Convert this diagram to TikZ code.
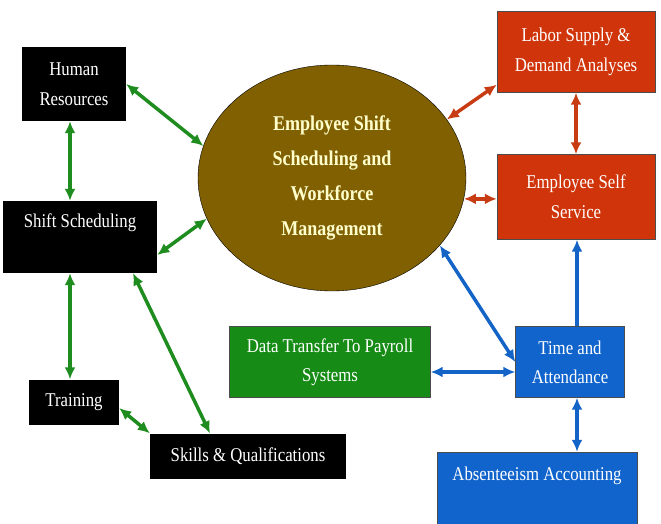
\documentclass[tikz,border=0pt]{standalone}
\usepackage{fontspec}
\setmainfont{Liberation Serif}[FakeStretch=0.86]
\usepackage{tikz}
\usetikzlibrary{shapes,arrows,arrows.meta,positioning}
\definecolor{wfbrown}{RGB}{128,96,0}
\definecolor{wftext}{RGB}{255,255,204}
\definecolor{boxred}{RGB}{208,52,10}
\definecolor{boxblue}{RGB}{16,100,204}
\definecolor{boxgreen}{RGB}{22,140,22}
\definecolor{arrgreen}{RGB}{30,140,30}
\definecolor{arrred}{RGB}{200,60,20}
\definecolor{arrblue}{RGB}{20,100,200}
\tikzstyle{hub}=[ellipse, fill=wfbrown, draw=black, text=wftext, minimum width=268pt, minimum height=226pt, align=center, font=\fontsize{21}{35}\selectfont\bfseries]
\tikzstyle{blackbox}=[rectangle, fill=black, text=white, align=center, inner sep=0pt, font=\fontsize{19.5}{30}\selectfont]
\tikzstyle{redbox}=[rectangle, fill=boxred, draw=black!70, text=white, align=center, inner sep=0pt, font=\fontsize{19.5}{30}\selectfont]
\tikzstyle{bluebox}=[rectangle, fill=boxblue, draw=black!70, text=white, align=center, inner sep=0pt, font=\fontsize{19.5}{29}\selectfont]
\tikzstyle{greenbox}=[rectangle, fill=boxgreen, draw=black!70, text=white, align=center, inner sep=0pt, font=\fontsize{19.5}{29}\selectfont]
\tikzstyle{garrow}=[{Latex[length=12pt,width=11pt]}-{Latex[length=12pt,width=11pt]}, line width=3.5pt, arrgreen]
\tikzstyle{rarrow}=[{Latex[length=12pt,width=11pt]}-{Latex[length=12pt,width=11pt]}, line width=3.5pt, arrred]
\tikzstyle{barrow}=[{Latex[length=12pt,width=11pt]}-{Latex[length=12pt,width=11pt]}, line width=3.5pt, arrblue]

\begin{document}
\begin{tikzpicture}[x=1pt,y=1pt]
\useasboundingbox (0,0) rectangle (661,523);

%Centre
\node[hub](wf) at (332,345){Employee Shift\\Scheduling and\\Workforce\\Management};
%Left side
\node[blackbox, minimum width=104pt, minimum height=74pt](hr) at (74,439){Human\\Resources};
\node[blackbox, minimum width=154pt, text height=27pt, text depth=45pt](shift) at (80,286){Shift Scheduling};
\node[blackbox, minimum width=90pt, minimum height=45pt](training) at (74,121){Training};
\node[blackbox, minimum width=196pt, minimum height=45pt](skills) at (248,67){Skills \& Qualifications};
%Right side
\node[redbox, minimum width=158pt, minimum height=81pt](labor) at (576,471){Labor Supply \&\\Demand Analyses};
\node[redbox, minimum width=158pt, minimum height=85pt](ess) at (576,326){Employee Self\\Service};
\node[greenbox, minimum width=201pt, minimum height=71pt](payroll) at (330,161){Data Transfer To Payroll\\Systems};
\node[bluebox, minimum width=109pt, minimum height=71pt](time) at (570,161){Time and\\Attendance};
\node[bluebox, minimum width=200pt, text height=28pt, text depth=55pt](absent) at (537,29.5){Absenteeism Accounting};

%Green arrows
\draw[garrow] (hr.east) -- (wf.166);
\draw[garrow] ([xshift=-4pt]hr.south) -- ([xshift=-4pt]hr.south |- shift.north);
\draw[garrow] ([yshift=-18pt]shift.east) -- (wf.198);
\draw[garrow] ([xshift=-4pt]training.north |- shift.south) -- ([xshift=-4pt]training.north);
\draw[garrow] ([xshift=53pt]shift.south) -- ([xshift=-38pt]skills.north);
\draw[garrow] ([yshift=-6pt]training.east) -- (skills.north west);
%Red arrows
\draw[rarrow] (wf.27) -- ([yshift=8pt]labor.south west);
\draw[rarrow] (labor.south) -- (ess.north);
\draw[rarrow] (wf.-9) -- (wf.-9 -| ess.west);
%Blue arrows
\draw[barrow] (wf.-32) -- (time.west);
\draw[-{Latex[length=12pt,width=11pt]}, line width=3.5pt, arrblue] ([xshift=7pt]time.north) -- ([xshift=7pt]time.north |- ess.south);
\draw[barrow] ([yshift=-10pt]payroll.east) -- ([yshift=-10pt]time.west);
\draw[barrow] ([xshift=7pt]time.south) -- ([xshift=7pt]time.south |- absent.north);

\end{tikzpicture}
\end{document}
